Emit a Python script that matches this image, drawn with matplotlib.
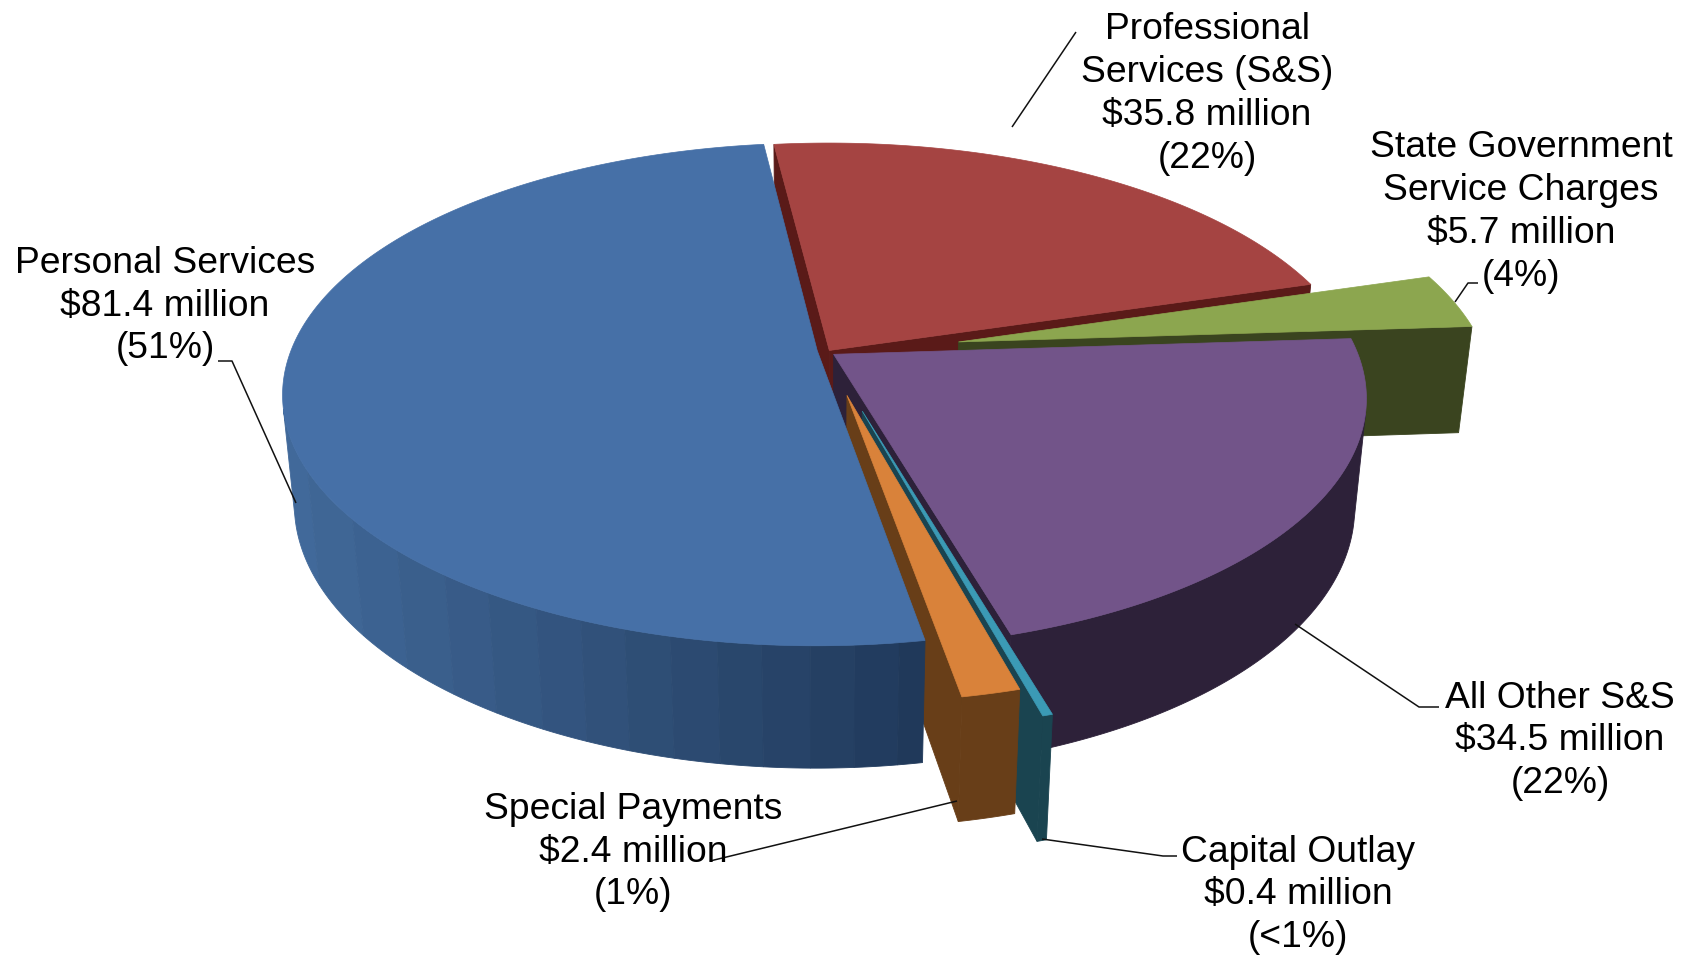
import numpy as np
import matplotlib
matplotlib.use('Agg')
import matplotlib.pyplot as plt
from matplotlib.colors import to_rgb

plt.rcParams['font.family'] = ['Liberation Sans', 'DejaVu Sans']

# clockwise from the first slice
categories = ['Professional\nServices (S&S)', 'State Government\nService Charges', 'All Other S&S',
              'Capital Outlay', 'Special Payments', 'Personal Services']
values = [35.8, 5.7, 34.5, 0.4, 2.4, 81.4]
percents = ['22%', '4%', '22%', '<1%', '1%', '51%']

top_colors = ['#A54442', '#8CA64F', '#725489', '#3B9AB5', '#D9823A', '#4670A7']
wall_colors = ['#5A1A18', '#3A441F', '#2D2139', '#1A4450', '#683E18', '#2A4468']
explode = [0.015, 0.26, 0.02, 0.25, 0.185, 0.015]
radius = [1.005, 1.0, 0.995, 0.985, 0.975, 1.0]
y_shift = [3.5, 3.0, 1.5, 0.0, 0.0, 0.0]
start_angle = -7.0

# camera for the tilted disc, output in figure pixels
CX, CY0 = 825.0, 350.0
CY = CY0
F, D = 2672.0, 5.08
SIN_E, COS_E = 0.463, 0.886
THICK = 0.236
BANDS = 14


def project(x, y, z=0.0):
    depth = D + y * COS_E - z * SIN_E
    return CX + F * x / depth, CY - F * (y * SIN_E + z * COS_E) / depth


def faces_camera(nx, ny, px, py):
    return nx * (0 - px) + ny * (-D * COS_E - py) > 0


def wall_poly(ax, px, py, color):
    # strip hanging from the top edge px, py down to the bottom face
    tx, ty = project(px, py)
    bx, by = project(px, py, -THICK)
    ax.fill(np.r_[tx, bx[::-1]], np.r_[ty, by[::-1]], facecolor=color, edgecolor=color, lw=0.6)


def draw_slice(ax, a0, a1, off, rad, top, wall, gradient=None):
    mid = np.radians((a0 + a1) / 2)
    ox, oy = off * np.sin(mid), off * np.cos(mid)
    th = np.radians(np.linspace(a0, a1, max(int(a1 - a0) * 3, 8)))
    px = ox + rad * np.sin(th)
    py = oy + rad * np.cos(th)

    # radial cut faces
    if faces_camera(-np.cos(th[0]), np.sin(th[0]), ox, oy):
        wall_poly(ax, np.array([ox, px[0]]), np.array([oy, py[0]]), wall)
    if faces_camera(np.cos(th[-1]), -np.sin(th[-1]), ox, oy):
        wall_poly(ax, np.array([ox, px[-1]]), np.array([oy, py[-1]]), wall)

    # rim, only the part turned towards the camera
    front = faces_camera(np.sin(th), np.cos(th), px, py)
    if front.any():
        rim_x, rim_y = px[front], py[front]
        if gradient is None:
            wall_poly(ax, rim_x, rim_y, wall)
        else:
            # stepped shading, lighter on the left
            sx = project(rim_x, rim_y)[0]
            step = np.round(np.clip((sx - 285) / 640, 0, 1) * BANDS).astype(int)
            c0, c1 = np.array(to_rgb(gradient[0])), np.array(to_rgb(gradient[1]))
            for s in np.unique(step):
                idx = np.where(step == s)[0]
                idx = np.r_[idx, min(idx[-1] + 1, len(rim_x) - 1)]
                t = s / BANDS
                wall_poly(ax, rim_x[idx], rim_y[idx], tuple((1 - t) * c0 + t * c1))

    xs, ys = project(np.r_[ox, px], np.r_[oy, py])
    ax.fill(xs, ys, facecolor=top, edgecolor=top, lw=0.5)


fig = plt.figure(figsize=(16.88, 9.56), dpi=100)
ax = fig.add_axes([0, 0, 1, 1])
ax.set_xlim(0, 1688)
ax.set_ylim(956, 0)
ax.axis('off')

total = sum(values)
angle = start_angle
for i, v in enumerate(values):
    sweep = v / total * 360
    CY = CY0 + y_shift[i]
    grad = ('#41699A', '#20395A') if categories[i] == 'Personal Services' else None
    draw_slice(ax, angle, angle + sweep, explode[i], radius[i], top_colors[i], wall_colors[i], grad)
    angle += sweep

# label centres and leader polylines
label_pos = [(1207, 94), (1521, 212), (1560, 741), (1298, 895), (633, 852), (165, 306)]
leaders = [[(1076, 32), (1012, 127)],
           [(1478, 283), (1468, 283), (1455, 302)],
           [(1439, 707), (1419, 707), (1295, 624)],
           [(1177, 856), (1163, 856), (1042, 839)],
           [(710, 861), (957, 801)],
           [(218, 361), (232, 361), (296, 503)]]

for line in leaders:
    xs, ys = zip(*line)
    ax.plot(xs, ys, color='#111111', lw=1.1, solid_capstyle='butt')

for name, v, pct, (lx, ly) in zip(categories, values, percents, label_pos):
    ax.text(lx, ly, f'{name}\n${v} million\n({pct})', ha='center', va='center',
            fontsize=26.8, linespacing=1.285, color='black')

fig.savefig('out.png', dpi=100)
